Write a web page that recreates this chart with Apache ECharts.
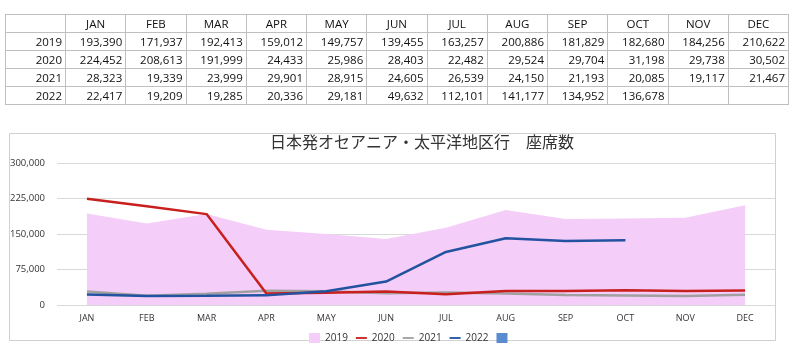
<!DOCTYPE html>
<html>
<head>
<meta charset="utf-8">
<script src="https://cdn.jsdelivr.net/npm/echarts@6/dist/echarts.min.js"></script>
<style>
html,body{margin:0;padding:0;background:#fff;width:800px;height:355px;overflow:hidden;}
#chart{position:absolute;left:0;top:0;width:800px;height:355px;}
#tbl{position:absolute;left:5px;top:14px;border-collapse:collapse;font-family:"Open Sans","Liberation Sans",sans-serif;font-size:11.5px;color:#111;table-layout:fixed;}
#tbl td{border:1px solid #bfbfbf;height:17px;padding:0 3px;text-align:right;line-height:17px;white-space:nowrap;}
#tbl td.h{text-align:center;}
</style>
</head>
<body>
<div id="chart"></div>
<table id="tbl"></table>
<script>
const months = ['JAN','FEB','MAR','APR','MAY','JUN','JUL','AUG','SEP','OCT','NOV','DEC'];
const years = ['2019','2020','2021','2022'];
const v2019 = [193390,171937,192413,159012,149757,139455,163257,200886,181829,182680,184256,210622];
const v2020 = [224452,208613,191999,24433,25986,28403,22482,29524,29704,31198,29738,30502];
const v2021 = [28323,19339,23999,29901,28915,24605,26539,24150,21193,20085,19117,21467];
const v2022 = [22417,19209,19285,20336,29181,49632,112101,141177,134952,136678,null,null];
const yTicks = [0,75000,150000,225000,300000];
const chartTitle = '日本発オセアニア・太平洋地区行　座席数';

// table
const fmt = v => v == null ? '' : v.toLocaleString('en-US');
const tbl = document.getElementById('tbl');
let html = '<colgroup><col style="width:60px">' + months.map(()=>'<col style="width:60.25px">').join('') + '</colgroup>';
html += '<tr><td class="h"></td>' + months.map(m=>'<td class="h">'+m+'</td>').join('') + '</tr>';
const rows = [v2019, v2020, v2021, v2022];
rows.forEach((r,i)=>{
  html += '<tr><td>'+years[i]+'</td>' + r.map(v=>'<td>'+fmt(v)+'</td>').join('') + '</tr>';
});
tbl.innerHTML = html;

const chart = echarts.init(document.getElementById('chart'), null, {renderer:'canvas'});
const lblFont = {fontFamily:'"Open Sans","Liberation Sans",sans-serif', color:'#333'};
const lineIcon = 'path://M0,0L24,0L24,4L0,4Z';
chart.setOption({
  animation:false,
  title:{text:chartTitle, left:265, top:129, textStyle:{fontFamily:'"Noto Sans CJK JP",sans-serif', fontWeight:'normal', fontSize:16, color:'#333'}},
  graphic:[{type:'rect', shape:{x:9.5,y:133.5,width:766,height:207}, style:{fill:'none', stroke:'#d0d0d0', lineWidth:1}, z:-1}],
  grid:{left:57, right:25, top:163, bottom:50},
  legend:{top:328, left:304, itemGap:8, itemWidth:11, itemHeight:10,
    textStyle:Object.assign({fontSize:10}, lblFont),
    data:[{name:'2019', icon:'rect'},{name:'2020', icon:lineIcon},{name:'2021', icon:lineIcon},{name:'2022', icon:lineIcon},{name:' ', icon:'rect'}]},
  xAxis:{type:'category', data:months, boundaryGap:true,
    axisLine:{show:false}, axisTick:{show:false},
    axisLabel:Object.assign({fontSize:9, margin:9}, lblFont)},
  yAxis:{type:'value', min:yTicks[0], max:yTicks[yTicks.length-1], interval:75000,
    axisLabel:Object.assign({fontSize:9.5, margin:12, formatter:v=>v.toLocaleString('en-US')}, lblFont),
    splitLine:{lineStyle:{color:'#d9d9d9', width:1}}},
  series:[
    {name:'2019', type:'line', data:v2019, symbol:'none', color:'#f4cdf8', lineStyle:{width:0}, areaStyle:{color:'#f4cdf8', opacity:1}, z:1},
    {name:'2020', type:'line', data:v2020, symbol:'none', color:'#c8201e', lineStyle:{width:2.5}, z:3},
    {name:'2021', type:'line', data:v2021, symbol:'none', color:'#a0a0a0', lineStyle:{width:2.5}, z:2},
    {name:'2022', type:'line', data:v2022, symbol:'none', color:'#2353a0', lineStyle:{width:2.5}, z:4},
    {name:' ', type:'line', data:[], symbol:'none', color:'#5b8cd0'}
  ]
});
</script>
</body>
</html>
